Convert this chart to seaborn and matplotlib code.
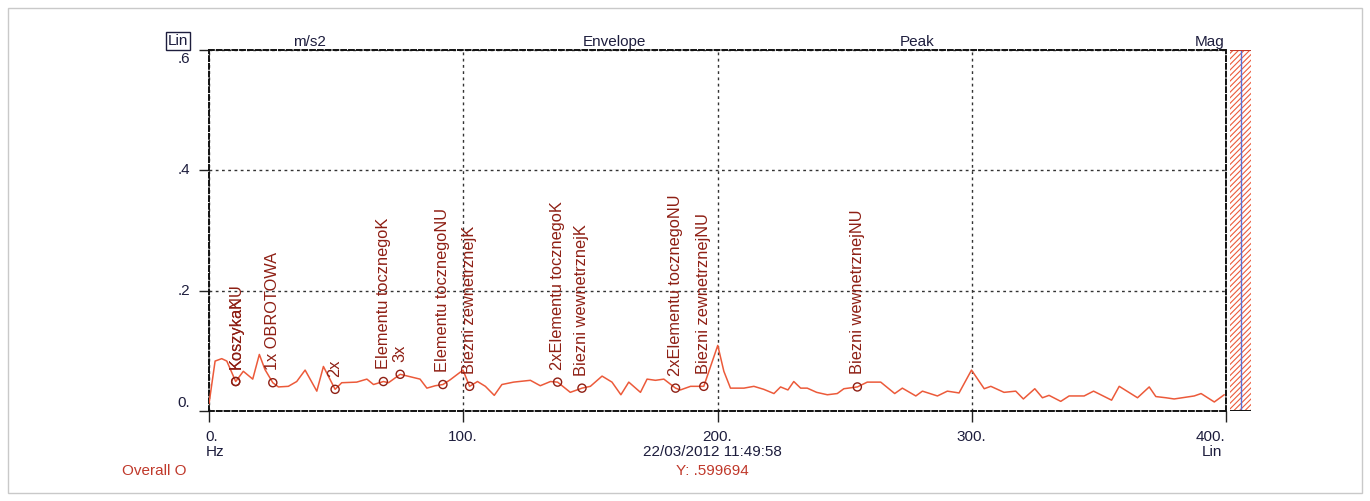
import numpy as np
import pandas as pd
import matplotlib
matplotlib.use("Agg")
import matplotlib.pyplot as plt
from matplotlib.patches import Rectangle
import seaborn as sns

# Envelope spectrum (Hz, m/s2)
freq_hz = [0.0, 2.4, 5.0, 7.0, 10.5, 13.5, 17.2, 19.8, 22.0, 25.1, 27.3, 31.2, 34.5,
           37.8, 42.4, 45.0, 49.6, 52.2, 58.1, 62.1, 64.7, 68.6, 70.6, 75.2, 83.0,
           85.7, 89.0, 92.0, 94.9, 99.9, 102.5, 105.6, 108.7, 112.2, 115.2, 119.8,
           126.4, 130.3, 134.3, 137.1, 142.1, 146.7, 150.0, 154.6, 158.5, 162.0,
           165.1, 169.7, 172.3, 175.6, 178.9, 183.5, 185.4, 189.4, 194.6, 200.1,
           202.5, 205.1, 210.4, 214.3, 218.2, 222.2, 224.8, 227.7, 230.0, 232.7,
           235.3, 239.0, 243.2, 247.1, 249.7, 255.0, 258.9, 264.2, 269.7, 272.7,
           278.0, 280.6, 286.5, 290.4, 295.0, 299.9, 304.9, 307.5, 312.7, 317.3,
           320.3, 324.8, 327.8, 330.4, 335.0, 338.3, 344.2, 347.9, 355.0, 358.0,
           365.2, 369.8, 372.4, 376.4, 379.6, 387.5, 390.2, 395.4, 399.3]
amp_ms2 = [0.012, 0.083, 0.087, 0.083, 0.049, 0.066, 0.053, 0.094, 0.069, 0.047, 0.040,
           0.041, 0.049, 0.068, 0.033, 0.074, 0.036, 0.047, 0.048, 0.053, 0.044, 0.049,
           0.047, 0.061, 0.053, 0.038, 0.042, 0.044, 0.052, 0.068, 0.041, 0.049, 0.041,
           0.026, 0.044, 0.048, 0.051, 0.042, 0.049, 0.048, 0.031, 0.038, 0.041, 0.058,
           0.048, 0.027, 0.048, 0.031, 0.053, 0.051, 0.053, 0.038, 0.035, 0.041, 0.041,
           0.109, 0.066, 0.038, 0.038, 0.041, 0.036, 0.029, 0.040, 0.035, 0.049, 0.038,
           0.038, 0.031, 0.027, 0.029, 0.037, 0.040, 0.048, 0.048, 0.029, 0.038, 0.025,
           0.033, 0.025, 0.033, 0.030, 0.068, 0.037, 0.041, 0.031, 0.033, 0.020, 0.037,
           0.022, 0.026, 0.016, 0.025, 0.025, 0.033, 0.018, 0.041, 0.022, 0.040, 0.024,
           0.022, 0.020, 0.025, 0.029, 0.015, 0.027]

# Bearing fault frequency cursors
fault_labels = ["KoszykaK", "KoszykaNU", "1x OBROTOWA", "2x", "Elementu tocznegoK", "3x",
                "Elementu tocznegoNU", "Biezni zewnetrznejK", "2xElementu tocznegoK",
                "Biezni wewnetrznejK", "2xElementu tocznegoNU", "Biezni zewnetrznejNU",
                "Biezni wewnetrznejNU"]
fault_hz = [10.5, 10.5, 25.1, 49.6, 68.6, 75.2, 92.0, 102.5, 137.1, 146.7, 183.5,
            194.6, 255.0]
fault_amp = [0.049, 0.049, 0.047, 0.036, 0.049, 0.061, 0.044, 0.041, 0.048, 0.038,
             0.038, 0.041, 0.040]

overall_value = 0.599694
x_ticks = [0, 100, 200, 300, 400]
x_tick_labels = ["0.", "100.", "200.", "300.", "400."]
y_ticks = [0.0, 0.2, 0.4, 0.6]
y_tick_labels = ["0.", ".2", ".4", ".6"]

W, H = 1370, 501
TRACE = "#ec5a3a"
CURSOR = "#8e1f14"
INK = "#1d1d3d"
FS = 11

sns.set_theme(style="white")
plt.rcParams["font.family"] = ["Liberation Sans", "DejaVu Sans"]
plt.rcParams["hatch.color"] = TRACE
plt.rcParams["hatch.linewidth"] = 0.8

fig = plt.figure(figsize=(W / 100, H / 100), dpi=100)


def px(x, y):
    return x / W, 1 - y / H


# outer frame
fig.patches.append(Rectangle((8 / W, 8 / H), (W - 16) / W, (H - 16) / H,
                             transform=fig.transFigure, fill=False,
                             edgecolor="#c9c9c9", linewidth=1))

x0, x1, y_top, y_bot = 209, 1226, 50, 411
ax = fig.add_axes([x0 / W, 1 - y_bot / H, (x1 - x0) / W, (y_bot - y_top) / H])

df = pd.DataFrame({"Hz": freq_hz, "amp": amp_ms2})
sns.lineplot(data=df, x="Hz", y="amp", ax=ax, color=TRACE, linewidth=1.1, zorder=3)

cur = pd.DataFrame({"Hz": fault_hz, "amp": fault_amp, "label": fault_labels})
sns.scatterplot(data=cur, x="Hz", y="amp", ax=ax, marker="o", s=34,
                facecolor="none", edgecolor=CURSOR, linewidth=1.0, zorder=4)
for _, r in cur.iterrows():
    ax.annotate(r["label"], (r["Hz"], r["amp"]), xytext=(0, 9),
                textcoords="offset points", rotation=90, ha="center", va="bottom",
                color=CURSOR, fontsize=11.8, zorder=5)

ax.set_xlim(0, 400)
ax.set_ylim(0, 0.6)
ax.set_xlabel("")
ax.set_ylabel("")
ax.set_xticks(x_ticks)
ax.set_yticks(y_ticks)
ax.set_xticklabels([])
ax.set_yticklabels([])
ax.tick_params(axis="x", direction="out", length=8, width=1, color="#222222",
               bottom=True)
ax.tick_params(axis="y", direction="out", length=7, width=1, color="#222222",
               left=True)
ax.grid(True, linestyle=(0, (2, 2.5)), color="#333333", linewidth=1)
for name, sp in ax.spines.items():
    sp.set_visible(True)
    sp.set_color("#111111")
    sp.set_linewidth(1.4)
    sp.set_linestyle((0, (2.5, 1.5)))

# overall level bar
bx0, bx1 = 1230, 1251
bax = fig.add_axes([bx0 / W, 1 - y_bot / H, (bx1 - bx0) / W, (y_bot - y_top) / H])
bar_df = pd.DataFrame({"k": ["Overall"], "v": [overall_value]})
bax.bar([0], bar_df["v"], width=1.0, color="white", edgecolor=TRACE,
        hatch="//////", linewidth=0)
bax.plot([0, 0], [0, overall_value], color="#5b6fd6", linewidth=1.0)
bax.plot([-0.5, 0.5], [overall_value, overall_value], color="#c0392b", linewidth=1.5)
bax.plot([-0.5, 0.5], [0, 0], color="#111111", linewidth=1.4)
bax.set_xlim(-0.5, 0.5)
bax.set_ylim(0, 0.6)
bax.axis("off")

# scale and header labels
fig.text(*px(178, 41), "Lin", ha="center", va="center", color=INK, fontsize=FS,
         bbox=dict(boxstyle="square,pad=0.1", fc="white", ec=INK, lw=1))
for xp, t in [(309, "m/s2"), (614, "Envelope"), (917, "Peak"), (1210, "Mag")]:
    fig.text(*px(xp, 42), t, ha="center", va="center", color=INK, fontsize=FS)

ylab_pos = {".6": 59, ".4": 170, ".2": 291, "0.": 403}
for t in y_tick_labels:
    fig.text(*px(190, ylab_pos[t]), t, ha="right", va="center", color=INK,
             fontsize=FS)

xlab_pos = [212, 463, 717, 971, 1210]
for xp, t in zip(xlab_pos, x_tick_labels):
    fig.text(*px(xp, 437), t, ha="center", va="center", color=INK, fontsize=FS)

fig.text(*px(206, 452), "Hz", ha="left", va="center", color=INK, fontsize=FS)
fig.text(*px(712, 452), "22/03/2012 11:49:58", ha="center", va="center", color=INK,
         fontsize=FS)
fig.text(*px(1222, 452), "Lin", ha="right", va="center", color=INK, fontsize=FS)
fig.text(*px(122, 471), "Overall O", ha="left", va="center", color="#c0392b",
         fontsize=FS)
fig.text(*px(712, 471), "Y: .599694", ha="center", va="center", color="#c0392b",
         fontsize=FS)

fig.savefig("out.png", dpi=100, facecolor="white")
